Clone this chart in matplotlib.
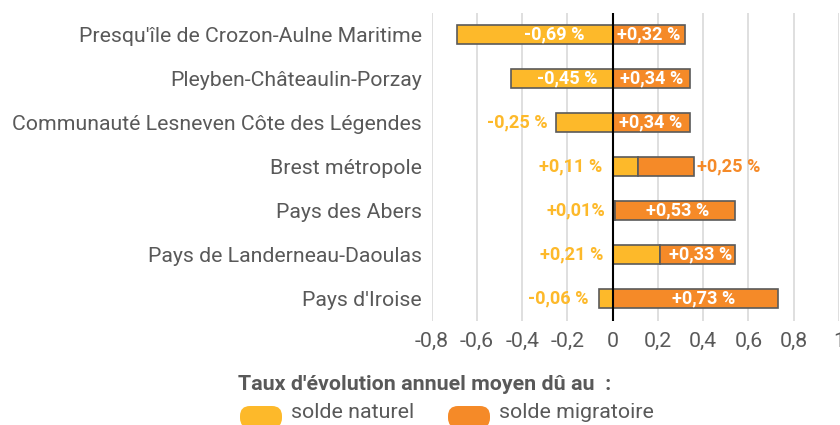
import matplotlib
matplotlib.use("Agg")
import matplotlib.pyplot as plt
from matplotlib.patches import FancyBboxPatch
from matplotlib.transforms import IdentityTransform
import numpy as np

plt.rcParams['font.family'] = ['Roboto', 'DejaVu Sans']

categories = ["Presqu'île de Crozon-Aulne Maritime", "Pleyben-Châteaulin-Porzay",
              "Communauté Lesneven Côte des Légendes", "Brest métropole",
              "Pays des Abers", "Pays de Landerneau-Daoulas", "Pays d'Iroise"]
naturel = [-0.69, -0.45, -0.25, 0.11, 0.01, 0.21, -0.06]
migratoire = [0.32, 0.34, 0.34, 0.25, 0.53, 0.33, 0.73]
nat_labels = ["-0,69 %", "-0,45 %", "-0,25 %", "+0,11 %", "+0,01%", "+0,21 %", "-0,06 %"]
mig_labels = ["+0,32 %", "+0,34 %", "+0,34 %", "+0,25 %", "+0,53 %", "+0,33 %", "+0,73 %"]
xticks = [-0.8, -0.6, -0.4, -0.2, 0, 0.2, 0.4, 0.6, 0.8, 1.0]
xtick_labels = ["-0,8", "-0,6", "-0,4", "-0,2", "0", "0,2", "0,4", "0,6", "0,8", "1"]

# label placement (style)
nat_label_x = [-0.26, -0.20, -0.42, -0.185, -0.162, -0.18, -0.24]
nat_label_inside = [True, True, False, False, False, False, False]
mig_label_x = [0.16, 0.17, 0.166, 0.512, 0.285, 0.388, 0.40]
mig_label_inside = [True, True, True, False, True, True, True]

YEL = '#FDB92A'
ORA = '#F58A28'
GREY = '#595959'
EDGE = '#5a5a5a'

fig = plt.figure(figsize=(8.4, 4.25), dpi=100)
ax = fig.add_axes([431.7/840, 1 - 320.5/425, (839.0-431.7)/840, (320.5-12.7)/425])

y = np.arange(len(categories))
nat = np.array(naturel)
mig = np.array(migratoire)
h = 0.44
ax.barh(y, nat, height=h, color=YEL, edgecolor=EDGE, linewidth=1.2, zorder=3)
ax.barh(y, mig, left=np.maximum(nat, 0), height=h, color=ORA, edgecolor=EDGE, linewidth=1.2, zorder=3)
ax.axvline(0, color='black', linewidth=1.5, zorder=4)

for i in range(len(categories)):
    ax.text(nat_label_x[i], y[i], nat_labels[i], ha='center', va='center',
            fontsize=13.1, fontweight='bold',
            color='white' if nat_label_inside[i] else YEL, zorder=5)
    ax.text(mig_label_x[i], y[i], mig_labels[i], ha='center', va='center',
            fontsize=13.1, fontweight='bold',
            color='white' if mig_label_inside[i] else ORA, zorder=5)

ax.set_xlim(-0.8, 1.0)
ax.set_ylim(len(categories) - 0.5, -0.5)
ax.set_xticks(xticks)
ax.set_xticklabels(xtick_labels)
ax.set_yticks(y)
ax.set_yticklabels(categories)
ax.tick_params(axis='both', length=0, labelsize=15.3, labelcolor=GREY)
ax.tick_params(axis='y', pad=7.2)
ax.tick_params(axis='x', pad=8)
ax.grid(axis='x', color='#d9d9d9', linewidth=1.2, zorder=0)
for s in ax.spines.values():
    s.set_visible(False)

fig.text(425/840, 1 - 384/425, "Taux d'évolution annuel moyen dû au  :", ha='center', va='center',
         fontsize=15.4, fontweight='bold', color=GREY)
# legend (pixel coordinates, origin bottom-left)
for x0, col, lab in [(240, YEL, "solde naturel"), (448, ORA, "solde migratoire")]:
    p = FancyBboxPatch((x0, 425 - 428), 42, 22,
                       boxstyle="round,pad=0,rounding_size=10",
                       transform=IdentityTransform(), facecolor=col, edgecolor='none')
    fig.patches.append(p)
    fig.text((x0 + 51)/840, 1 - 413/425, lab, ha='left', va='center',
             fontsize=15.4, color=GREY)

fig.savefig('out.png', dpi=100)
